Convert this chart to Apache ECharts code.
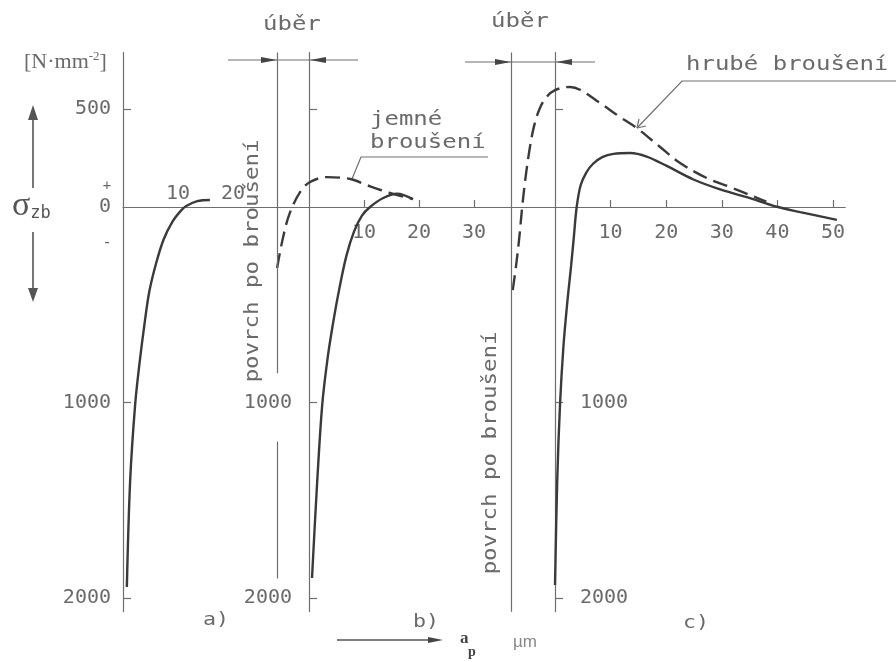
<!DOCTYPE html>
<html><head><meta charset="utf-8">
<script src="https://cdn.jsdelivr.net/npm/echarts@6/dist/echarts.min.js"></script>
<style>html,body{margin:0;padding:0;background:#fff}#c{width:896px;height:662px}</style>
</head><body><div id="c"></div>
<script>
// ---------- data (depth a_p in µm, stress σ_zb in N·mm^-2; compression negative) ----------
const yTickValues = [500, -1000, -2000];
const yLabelsA = [500, 0, -1000, -2000];
const yLabelsBC = [-1000, -2000];
const xTicksA = [10, 20];
const xTicksB = [10, 20, 30];
const xTicksC = [10, 20, 30, 40, 50];
const removedB = 5.8;   // úběr, panel b (µm)
const removedC = 7.9;   // úběr, panel c (µm)

const aDepth  = [0.7, 1.3, 2.2, 3.0, 3.9, 4.8, 6.0, 7.4, 9.0, 10.5, 11.5, 13.5, 15.8];
const aStress = [-1944, -1400, -1013, -800, -600, -430, -290, -165, -75, -20, 5, 30, 36];

const bDepth  = [0.55, 1.4, 2.4, 3.4, 4.4, 5.5, 6.8, 8.2, 9.6, 11.1, 13.5, 16.0, 18.9];
const bStress = [-1898, -1450, -1013, -770, -590, -420, -250, -125, -45, 0, 46, 68, 40];

const bFineDepth  = [-5.8, -4.7, -3.5, -1.6, 0.2, 3.3, 7.5, 10.5, 14.7, 18.9];
const bFineStress = [-312, -153, -31, 77, 128, 153, 143, 112, 72, 40];

const cDepth  = [0.0, 0.4, 0.9, 1.5, 2.2, 2.9, 3.4, 3.9, 4.6, 5.6, 6.8, 8.5, 10.5, 13.5, 16.5, 20.1, 24.8, 29.7, 34.5, 40.1, 44.1, 50.7];
const cStress = [-1933, -1400, -1013, -720, -491, -300, -150, 0, 110, 175, 220, 255, 272, 276, 258, 210, 142, 90, 50, 0, -26, -66];

const cCoarseDepth  = [-7.6, -7.0, -6.4, -5.9, -5.3, -4.6, -3.8, -2.8, -1.6, 0, 2.7, 4.5, 8.1, 11.7, 14.7, 18.9, 22.5, 27.3, 31.5, 35.6, 38.0];
const cCoarseStress = [-425, -300, -150, 0, 150, 290, 410, 500, 560, 598, 614, 600, 532, 460, 404, 307, 225, 148, 102, 55, 28];

// ---------- layout ----------
const K = 0.1955, zeroPx = 207, yMax = 790, yMin = -2070;
const gTop = zeroPx - yMax * K;
const gBottomPx = zeroPx - yMin * K;
const gBottom = 662 - gBottomPx;
const panels = [
  { origin: 123, scale: 5.5,  xMin: 0,         xMax: 28 },
  { origin: 309, scale: 5.5,  xMin: -removedB, xMax: 36.7 },
  { origin: 555, scale: 5.56, xMin: -removedC, xMax: 52.2 }
];
const zip = (xs, ys) => xs.map((x, i) => [x, ys[i]]);
const AX = '#6e6e6e', TXT = '#6a6a6a', INK = '#3a3a3a';
const MONO = 'DejaVu Sans Mono';

const grids = panels.map(p => ({
  left: p.origin + p.xMin * p.scale,
  width: (p.xMax - p.xMin) * p.scale,
  top: gTop, bottom: gBottom, containLabel: false
}));

const xTicksAll = [xTicksA, xTicksB, xTicksC];
const xAxes = panels.map((p, i) => ({
  type: 'value', gridIndex: i, min: p.xMin, max: p.xMax,
  position: 'bottom', offset: -(gBottomPx - zeroPx),
  splitLine: { show: false },
  axisLine: { show: true, onZero: false, lineStyle: { color: AX, width: 1.2 } },
  axisTick: { show: i > 0, inside: true, length: 7, customValues: xTicksAll[i], lineStyle: { color: AX, width: 1.2 } },
  axisLabel: {
    show: true, customValues: xTicksAll[i], inside: i === 0, margin: i === 0 ? 3 : 16,
    color: TXT, fontFamily: MONO, fontSize: 20
  }
}));

const yAxes = panels.map((p, i) => ({
  type: 'value', gridIndex: i, min: yMin, max: yMax,
  position: 'left', offset: p.xMin * p.scale,
  splitLine: { show: false },
  axisLine: { show: true, onZero: false, lineStyle: { color: AX, width: 1.2 } },
  axisTick: { show: true, inside: true, length: 8, customValues: yTickValues, lineStyle: { color: AX, width: 1.2 } },
  axisLabel: {
    show: true, customValues: i === 0 ? yLabelsA : yLabelsBC,
    inside: i === 2, margin: i === 0 ? 12 : (i === 1 ? 17 : 25),
    formatter: v => String(Math.abs(v)),
    color: TXT, fontFamily: MONO, fontSize: 20
  }
}));

const lineBase = (name, xi, data, dashed) => ({
  name, type: 'line', xAxisIndex: xi, yAxisIndex: xi, data,
  showSymbol: false, smooth: 0.35, clip: false, silent: true,
  lineStyle: { color: INK, width: 2.4, type: dashed ? [15, 7] : 'solid' }
});

const surfLine = { color: AX, width: 1.2, type: 'solid' };
const sB = lineBase('jemné broušení', 1, zip(bFineDepth, bFineStress), true);
sB.markLine = {
  silent: true, symbol: ['none', 'none'], label: { show: false }, lineStyle: surfLine,
  data: [
    [{ coord: [-removedB, yMax] }, { coord: [-removedB, -850] }],
    [{ coord: [-removedB, -1200] }, { coord: [-removedB, -1900] }]
  ]
};
const sC = lineBase('hrubé broušení', 2, zip(cCoarseDepth, cCoarseStress), true);
sC.markLine = {
  silent: true, symbol: ['none', 'none'], label: { show: false }, lineStyle: surfLine,
  data: [[{ coord: [-removedC, yMax] }, { coord: [-removedC, yMin] }]]
};

const series = [
  lineBase('a', 0, zip(aDepth, aStress), false),
  lineBase('b', 1, zip(bDepth, bStress), false),
  sB,
  lineBase('c', 2, zip(cDepth, cStress), false),
  sC
];

// ---------- annotations ----------
const tx = (text, x, y, o = {}) => ({
  type: 'text', x, y, rotation: o.rot || 0, scaleX: o.sx || 1, silent: true,
  style: {
    text, fill: o.fill || TXT, font: o.font || ('20px "' + MONO + '"'),
    align: o.align || 'left', verticalAlign: o.va || 'middle', rich: o.rich
  }
});
const ln = (pts, w = 1.2, c = AX) => ({ type: 'polyline', silent: true, shape: { points: pts }, style: { stroke: c, lineWidth: w, fill: null } });
const tri = (pts, c = '#444') => ({ type: 'polygon', silent: true, shape: { points: pts }, style: { fill: c } });

const graphic = [
  // unit
  tx('{n|[N·mm}{s|-2}{n|]}', 24, 62, { rich: {
      n: { fontFamily: 'Liberation Serif', fontSize: 22, fill: TXT },
      s: { fontFamily: 'Liberation Serif', fontSize: 13, fill: TXT, padding: [0, 0, 10, 0] }
    }, font: '22px "Liberation Serif"' }),
  // sigma
  tx('{s|σ}{z|zb}', 12, 206, { rich: {
      s: { fontFamily: 'Liberation Serif', fontSize: 34, fill: '#555' },
      z: { fontFamily: MONO, fontSize: 17, fill: '#555', padding: [16, 0, 0, 0] }
    } }),
  ln([[33, 188], [33, 116]], 1.6, '#555'), tri([[28, 120], [33, 105], [38, 120]], '#555'),
  ln([[33, 232], [33, 292]], 1.6, '#555'), tri([[28, 288], [33, 302], [38, 288]], '#555'),
  tx('+', 107, 186, { align: 'center', font: '14px "' + MONO + '"' }),
  tx('-', 107, 243, { align: 'center', font: '16px "' + MONO + '"' }),
  // surface labels
  tx('povrch po broušení', 253, 261, { rot: Math.PI / 2, sx: 1.12, align: 'center' }),
  tx('povrch po broušení', 491, 453, { rot: Math.PI / 2, sx: 1.12, align: 'center' }),
  // úběr
  tx('úběr', 292, 25, { align: 'center', sx: 1.2 }),
  tx('úběr', 520, 22, { align: 'center', sx: 1.2 }),
  ln([[228, 60], [358, 60]]), tri([[261, 57], [277, 60], [261, 63]]), tri([[326, 57], [310, 60], [326, 63]]),
  ln([[465, 62], [595, 62]]), tri([[495, 59], [511, 62], [495, 65]]), tri([[572, 59], [556, 62], [572, 65]]),
  // jemné broušení
  tx('jemné', 370, 120, { sx: 1.2 }),
  tx('broušení', 370, 143, { sx: 1.2 }),
  ln([[488, 157], [361, 157], [352, 179]]),
  // hrubé broušení
  tx('hrubé broušení', 686, 65, { sx: 1.2 }),
  ln([[896, 81], [682, 81], [637, 128]]),
  ln([[637, 128], [646, 126]]), ln([[637, 128], [639, 119]]),
  // panel labels
  tx('a)', 203, 620, { sx: 1.2, font: '18px "' + MONO + '"' }),
  tx('b)', 413, 622, { sx: 1.2, font: '18px "' + MONO + '"' }),
  tx('c)', 683, 623, { sx: 1.2, font: '18px "' + MONO + '"' }),
  // depth axis caption
  ln([[337, 640], [432, 640]], 1.4, '#555'), tri([[428, 637], [443, 640], [428, 643]], '#444'),
  tx('a', 460, 639, { font: 'bold 17px "Liberation Serif"', fill: '#444' }),
  tx('p', 468, 652, { font: 'bold 14px "Liberation Serif"', fill: '#444' }),
  tx('µm', 513, 642, { font: '17px "Liberation Sans"', fill: '#888' })
];

const chart = echarts.init(document.getElementById('c'), null, { renderer: 'canvas' });
chart.setOption({
  animation: false,
  backgroundColor: '#ffffff',
  grid: grids, xAxis: xAxes, yAxis: yAxes, series, graphic
});
</script>
</body></html>
